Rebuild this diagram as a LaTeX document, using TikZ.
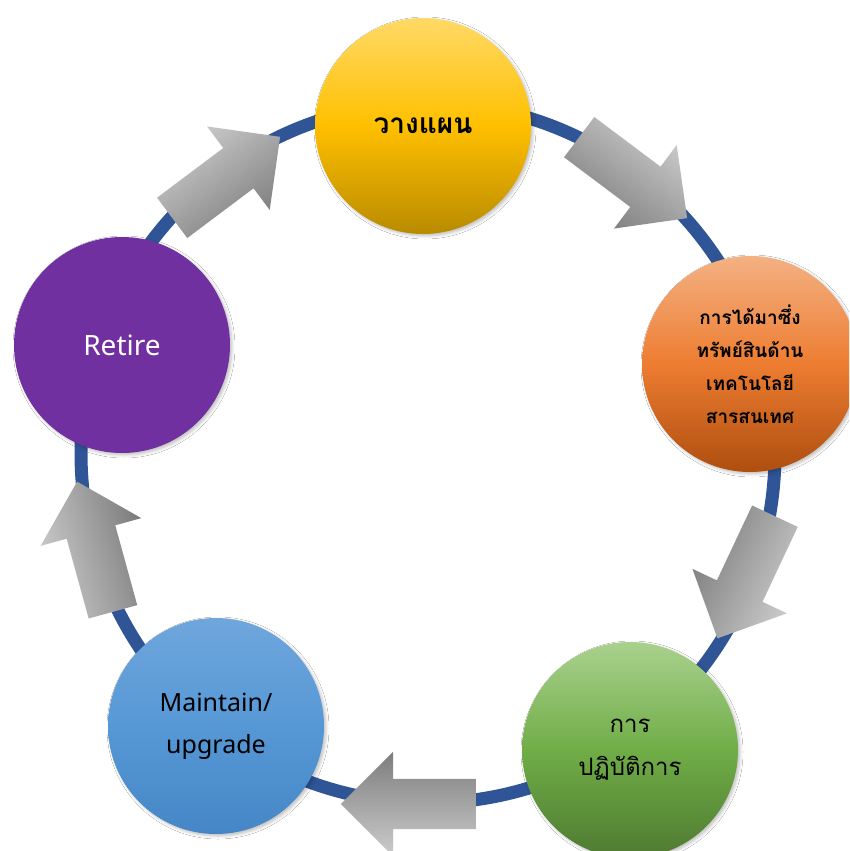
\documentclass[tikz,border=0pt]{standalone}
\usepackage{fontspec}
\newfontfamily\thaifont[Script=Thai]{Loma}
\newfontfamily\latinfont{Noto Sans}
\usetikzlibrary{shapes.arrows,shadows.blur}
\definecolor{ringblue}{RGB}{47,85,151}
\definecolor{plantop}{RGB}{255,217,102}
\definecolor{planmid}{RGB}{255,192,0}
\definecolor{planbot}{RGB}{184,138,0}
\definecolor{buytop}{RGB}{244,177,131}
\definecolor{buymid}{RGB}{237,125,49}
\definecolor{buybot}{RGB}{174,78,15}
\definecolor{runtop}{RGB}{169,209,142}
\definecolor{runmid}{RGB}{112,173,71}
\definecolor{runbot}{RGB}{78,122,49}
\definecolor{fixtop}{RGB}{111,166,220}
\definecolor{fixmid}{RGB}{86,152,214}
\definecolor{fixbot}{RGB}{70,134,198}
\definecolor{retirepurple}{RGB}{112,48,160}
\definecolor{arrowlight}{RGB}{204,204,204}
\definecolor{arrowdark}{RGB}{125,125,125}
\tikzset{
   stage/.style={circle, minimum size=216pt, inner sep=0pt, align=center, text=black,
                 blur shadow={shadow xshift=2pt, shadow yshift=-2pt, shadow blur radius=3pt, shadow opacity=25}},
   blockarrow/.style={single arrow, minimum height=135pt, minimum width=0pt,
                 inner xsep=0pt, inner ysep=25pt, single arrow head extend=27pt,
                 anchor=tail, top color=arrowlight, bottom color=arrowdark}
}
\begin{document}
\begin{tikzpicture}[x=1pt, y=-1pt]
\clip (0,0) rectangle (849,851);
\fill[white] (0,0) rectangle (849,851);

% ring
\draw[ringblue, line width=13pt] (428,453) ellipse [x radius=347, y radius=350];

% arrows, placed by their tails
\node[blockarrow, rotate=36.9, shading angle=36.9] (a1) at (172,218) {};
\node[blockarrow, rotate=-36.9, shading angle=-36.9] (a2) at (579,137) {};
\node[blockarrow, rotate=-115.2, shading angle=-115.2] (a3) at (775,516) {};
\node[blockarrow, rotate=180, shading angle=180] (a4) at (476,804) {};
\node[blockarrow, rotate=105.4, shading angle=105.4] (a5) at (113,612) {};

% stages
\node[stage, top color=plantop, bottom color=planbot, middle color=planmid,
      font=\thaifont\bfseries\fontsize{28pt}{30pt}\selectfont] (plan) at (423,126) {วางแผน};
\node[stage, top color=buytop, bottom color=buybot, middle color=buymid,
      font=\thaifont\bfseries\fontsize{19pt}{33pt}\selectfont] (buy) at (750,364)
      {การได้มาซึ่ง\\ทรัพย์สินด้าน\\เทคโนโลยี\\สารสนเทศ};
\node[stage, top color=runtop, bottom color=runbot, middle color=runmid,
      font=\thaifont\fontsize{24pt}{43pt}\selectfont] (run) at (630,750)
      {การ\\ปฏิบัติการ};
\node[stage, top color=fixtop, bottom color=fixbot, middle color=fixmid,
      font=\latinfont\fontsize{25pt}{42pt}\selectfont] (fix) at (216,726)
      {Maintain/\\upgrade};
\node[stage, fill=retirepurple, text=white,
      font=\latinfont\fontsize{28pt}{30pt}\selectfont] (retire) at (122,345) {Retire};
\end{tikzpicture}
\end{document}
